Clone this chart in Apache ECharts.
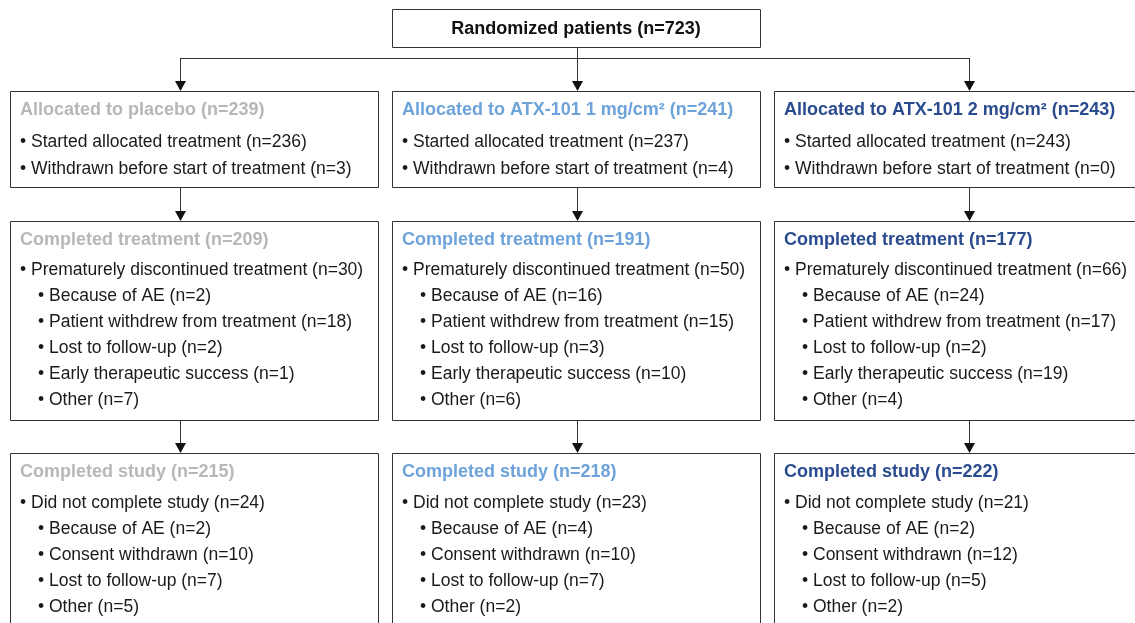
<!DOCTYPE html>
<html>
<head>
<meta charset="utf-8">
<script src="https://cdn.jsdelivr.net/npm/echarts@6/dist/echarts.min.js"></script>
<style>
  html, body { margin: 0; padding: 0; background: #fff; }
</style>
</head>
<body>
<div id="flowChart" style="width: 1135px; height: 623px;"></div>
<script>
// study flow counts
const randomized = 723
const groupNames = ['placebo', 'ATX-101 1 mg/cm\u00b2', 'ATX-101 2 mg/cm\u00b2']
const allocated = [239, 241, 243]
const started = [236, 237, 243]
const withdrawnBefore = [3, 4, 0]
const completedTreatment = [209, 191, 177]
const discontinued = [30, 50, 66]
const discAE = [2, 16, 24]
const discPatientWithdrew = [18, 15, 17]
const discLost = [2, 3, 2]
const discEarlySuccess = [1, 10, 19]
const discOther = [7, 6, 4]
const completedStudy = [215, 218, 222]
const notCompleted = [24, 23, 21]
const studyAE = [2, 4, 2]
const studyConsent = [10, 10, 12]
const studyLost = [7, 7, 5]
const studyOther = [5, 2, 2]

const headColors = ['#b7b7b7', '#6ea3da', '#2b4b8f']
const lineColor = '#333'
const font = '"Liberation Sans", Arial, Helvetica, sans-serif'

let myChart = echarts.init(document.getElementById('flowChart'))
let els = []

function box (x, y, w, h) {
  els.push({ type: 'rect', shape: { x: x + 0.5, y: y + 0.5, width: w, height: h },
    style: { fill: '#fff', stroke: lineColor, lineWidth: 1 } })
}
function txt (x, y, s, color, bold) {
  els.push({ type: 'text', x: x, y: y, style: { text: s, fill: color || '#1a1a1a',
    fontSize: bold ? 18 : 17.5, fontWeight: bold ? 'bold' : 'normal', fontFamily: font,
    align: 'left', verticalAlign: 'middle' } })
}
function line (x1, y1, x2, y2) {
  els.push({ type: 'line', shape: { x1: x1, y1: y1, x2: x2, y2: y2 },
    style: { stroke: lineColor, lineWidth: 1 } })
}
function arrow (x, y1, y2) {
  line(x, y1, x, y2 - 9)
  els.push({ type: 'polygon', shape: { points: [[x - 5.5, y2 - 10], [x + 5.5, y2 - 10], [x, y2]] },
    style: { fill: '#111' } })
}

// top box
box(392, 9, 368, 38)
els.push({ type: 'text', x: 576, y: 29, style: { text: 'Randomized patients (n=' + randomized + ')',
  fill: '#111', fontSize: 18, fontWeight: 'bold', fontFamily: font, align: 'center', verticalAlign: 'middle' } })
line(577.5, 47, 577.5, 58.5)
line(180.5, 58.5, 969.5, 58.5)

const colX = [10, 392, 774]
const colW = [368, 368, 370]
const arrowX = [180.5, 577.5, 969.5]

for (let i = 0; i < 3; i++) {
  let x = colX[i]
  let c = headColors[i]
  arrow(arrowX[i], 58, 91)
  box(x, 91, colW[i], 96)
  txt(x + 10, 110, 'Allocated to ' + groupNames[i] + ' (n=' + allocated[i] + ')', c, true)
  txt(x + 10, 142, '\u2022 Started allocated treatment (n=' + started[i] + ')')
  txt(x + 10, 169, '\u2022 Withdrawn before start of treatment (n=' + withdrawnBefore[i] + ')')

  arrow(arrowX[i], 187, 221)
  box(x, 221, colW[i], 199)
  txt(x + 10, 240, 'Completed treatment (n=' + completedTreatment[i] + ')', c, true)
  txt(x + 10, 270, '\u2022 Prematurely discontinued treatment (n=' + discontinued[i] + ')')
  txt(x + 28, 296, '\u2022 Because of AE (n=' + discAE[i] + ')')
  txt(x + 28, 322, '\u2022 Patient withdrew from treatment (n=' + discPatientWithdrew[i] + ')')
  txt(x + 28, 348, '\u2022 Lost to follow-up (n=' + discLost[i] + ')')
  txt(x + 28, 374, '\u2022 Early therapeutic success (n=' + discEarlySuccess[i] + ')')
  txt(x + 28, 400, '\u2022 Other (n=' + discOther[i] + ')')

  arrow(arrowX[i], 420, 453)
  box(x, 453, colW[i], 190)
  txt(x + 10, 472, 'Completed study (n=' + completedStudy[i] + ')', c, true)
  txt(x + 10, 503, '\u2022 Did not complete study (n=' + notCompleted[i] + ')')
  txt(x + 28, 529, '\u2022 Because of AE (n=' + studyAE[i] + ')')
  txt(x + 28, 555, '\u2022 Consent withdrawn (n=' + studyConsent[i] + ')')
  txt(x + 28, 581, '\u2022 Lost to follow-up (n=' + studyLost[i] + ')')
  txt(x + 28, 607, '\u2022 Other (n=' + studyOther[i] + ')')
}

myChart.setOption({
  animation: false,
  graphic: { elements: els }
})
</script>
</body>
</html>
